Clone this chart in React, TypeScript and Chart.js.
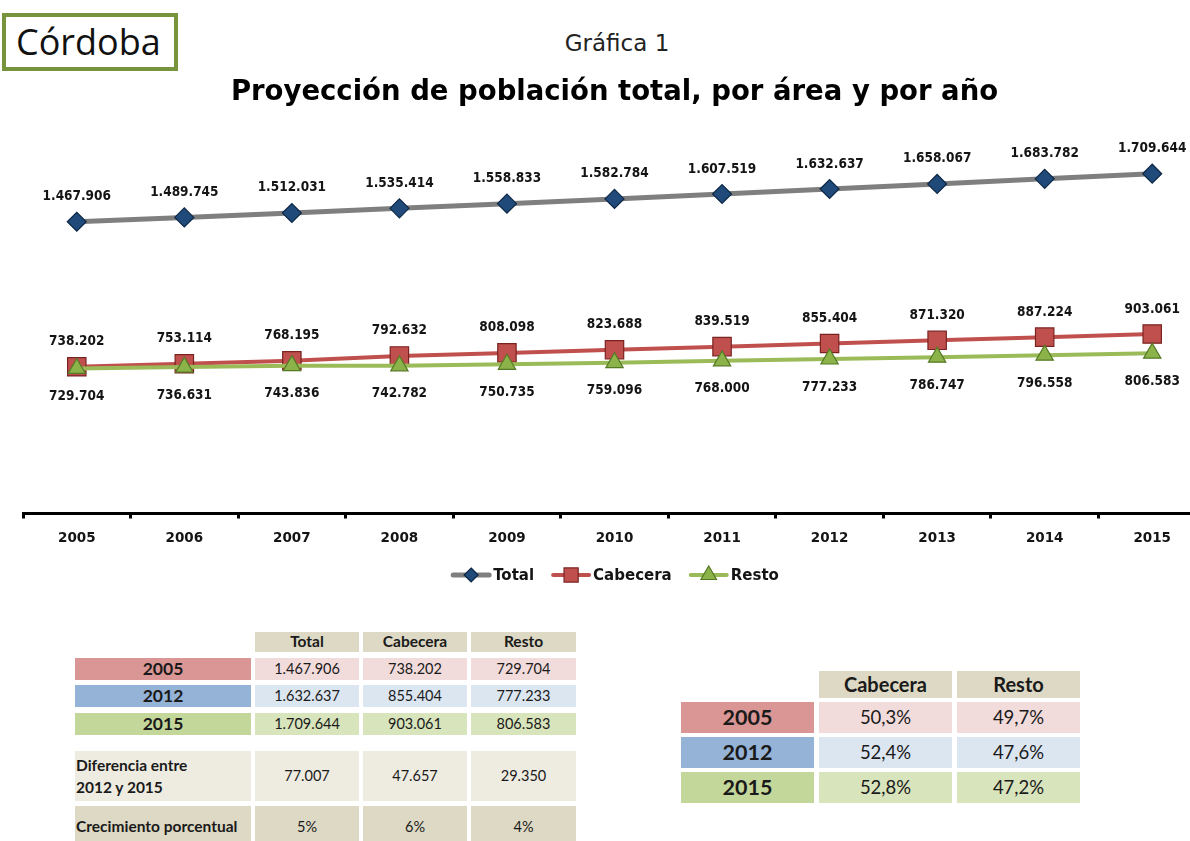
import React, { useEffect, useRef } from 'react';
import { Chart, registerables } from 'chart.js';

Chart.register(...registerables);

const years = ['2005', '2006', '2007', '2008', '2009', '2010', '2011', '2012', '2013', '2014', '2015'];
const total = [1467906, 1489745, 1512031, 1535414, 1558833, 1582784, 1607519, 1632637, 1658067, 1683782, 1709644];
const cabecera = [738202, 753114, 768195, 792632, 808098, 823688, 839519, 855404, 871320, 887224, 903061];
const resto = [729704, 736631, 743836, 742782, 750735, 759096, 768000, 777233, 786747, 796558, 806583];

const seriesNames = ['Total', 'Cabecera', 'Resto'];

const tableYears = ['2005', '2012', '2015'];
const tableTotal = ['1.467.906', '1.632.637', '1.709.644'];
const tableCabecera = ['738.202', '855.404', '903.061'];
const tableResto = ['729.704', '777.233', '806.583'];
const diferencia = ['77.007', '47.657', '29.350'];
const crecimiento = ['5%', '6%', '4%'];
const shareCabecera = ['50,3%', '52,4%', '52,8%'];
const shareResto = ['49,7%', '47,6%', '47,2%'];

const fmt = (n: number) => String(n).replace(/\B(?=(\d{3})+(?!\d))/g, '.');

const LINE_COLORS = ['#7F7F7F', '#C0504D', '#9BBB59'];
const MARK_FILL = ['#1F4A7A', '#C0504D', '#8CB24A'];
const MARK_BORDER = ['#0E2846', '#7A2321', '#557A25'];

function drawMarker(ctx: CanvasRenderingContext2D, kind: number, x: number, y: number, r: number) {
  ctx.beginPath();
  if (kind === 0) {
    ctx.moveTo(x, y - r);
    ctx.lineTo(x + r, y);
    ctx.lineTo(x, y + r);
    ctx.lineTo(x - r, y);
  } else if (kind === 1) {
    const s = r * Math.SQRT1_2;
    ctx.rect(x - s, y - s, 2 * s, 2 * s);
  } else {
    ctx.moveTo(x, y - r);
    ctx.lineTo(x + r * 0.866, y + r * 0.5);
    ctx.lineTo(x - r * 0.866, y + r * 0.5);
  }
  ctx.closePath();
  ctx.fillStyle = MARK_FILL[kind];
  ctx.fill();
  ctx.lineWidth = 1.2;
  ctx.strokeStyle = MARK_BORDER[kind];
  ctx.stroke();
}

const LABEL_FONT = 'bold 13.5px "DejaVu Sans Condensed", "DejaVu Sans", sans-serif';

const pointLabelsPlugin = {
  id: 'pointLabels',
  afterDatasetsDraw(chart: any, _args: any, opts: any) {
    const ctx = chart.ctx as CanvasRenderingContext2D;
    ctx.save();
    ctx.font = LABEL_FONT;
    ctx.fillStyle = '#141414';
    ctx.textAlign = 'center';
    ctx.textBaseline = 'middle';
    chart.data.datasets.forEach((ds: any, i: number) => {
      const meta = chart.getDatasetMeta(i);
      const off = opts.offsets[i];
      meta.data.forEach((el: any, j: number) => {
        ctx.fillText(fmt(ds.data[j]), el.x, el.y + off);
      });
    });
    ctx.restore();
  },
};

const customLegendPlugin = {
  id: 'customLegend',
  afterDraw(chart: any, _args: any, opts: any) {
    const ctx = chart.ctx as CanvasRenderingContext2D;
    ctx.save();
    ctx.font = 'bold 15px "DejaVu Sans", sans-serif';
    const sample = 40;
    const gap = 2;
    const spacing = 17;
    const items = chart.data.datasets.map((ds: any) => ({ label: ds.label, w: sample + gap + ctx.measureText(ds.label).width }));
    const totalW = items.reduce((a: number, b: any) => a + b.w, 0) + spacing * (items.length - 1);
    let x = opts.centerX - totalW / 2;
    const y = opts.y;
    items.forEach((it: any, i: number) => {
      ctx.strokeStyle = LINE_COLORS[i];
      ctx.lineWidth = i === 0 ? 5 : 4;
      ctx.lineCap = 'round';
      ctx.beginPath();
      ctx.moveTo(x + 2, y);
      ctx.lineTo(x + sample - 2, y);
      ctx.stroke();
      drawMarker(ctx, i, x + sample / 2, y, i === 0 ? 7 : i === 1 ? 10 : 9);
      ctx.fillStyle = '#141414';
      ctx.textAlign = 'left';
      ctx.textBaseline = 'middle';
      ctx.fillText(it.label, x + sample + gap, y + 1);
      x += it.w + spacing;
    });
    ctx.restore();
  },
};

function LineChart() {
  const ref = useRef<HTMLCanvasElement | null>(null);
  useEffect(() => {
    if (!ref.current) return;
    const chart = new Chart(ref.current, {
      type: 'line',
      data: {
        labels: years,
        datasets: [
          {
            label: seriesNames[0],
            data: total,
            borderColor: LINE_COLORS[0],
            borderWidth: 5,
            pointStyle: 'rectRot',
            pointRadius: 9.5,
            pointBackgroundColor: MARK_FILL[0],
            pointBorderColor: MARK_BORDER[0],
            pointBorderWidth: 1.2,
            tension: 0,
            order: 2,
          },
          {
            label: seriesNames[1],
            data: cabecera,
            borderColor: LINE_COLORS[1],
            borderWidth: 4,
            pointStyle: 'rect',
            pointRadius: 13,
            pointBackgroundColor: MARK_FILL[1],
            pointBorderColor: MARK_BORDER[1],
            pointBorderWidth: 1.2,
            tension: 0,
            order: 1,
          },
          {
            label: seriesNames[2],
            data: resto,
            borderColor: LINE_COLORS[2],
            borderWidth: 4,
            pointStyle: 'triangle',
            pointRadius: 10,
            pointBackgroundColor: MARK_FILL[2],
            pointBorderColor: MARK_BORDER[2],
            pointBorderWidth: 1.2,
            tension: 0,
            order: 0,
          },
        ],
      },
      options: {
        animation: false,
        responsive: false,
        devicePixelRatio: 1,
        layout: { padding: { left: 23, right: 28, top: 0, bottom: 46.5 } },
        scales: {
          x: {
            offset: true,
            afterFit: (scale: any) => {
              scale.height = 40;
            },
            grid: {
              display: true,
              offset: true,
              drawOnChartArea: false,
              drawTicks: true,
              tickLength: 5,
              tickWidth: 3,
              tickColor: '#000',
              color: '#000',
            },
            border: { display: true, color: '#000', width: 3 },
            ticks: {
              color: '#141414',
              padding: 12,
              font: { family: '"DejaVu Sans"', size: 13.5, weight: 'bold' },
            },
          },
          y: {
            display: false,
            min: 0,
            max: 2000000,
          },
        },
        plugins: {
          legend: { display: false },
          tooltip: { enabled: false },
          title: {
            display: true,
            text: 'Proyección de población total, por área y por año',
            color: '#000',
            font: { family: '"DejaVu Sans"', size: 27.5, weight: 'bold' },
            padding: { top: 6, bottom: 7 },
          },
          pointLabels: { offsets: [-25, -25, 28] },
          customLegend: { centerX: 615, y: 505 },
        } as any,
      },
      plugins: [pointLabelsPlugin, customLegendPlugin],
    });
    return () => chart.destroy();
  }, []);
  return <canvas ref={ref} width={1234} height={530} style={{ position: 'absolute', left: 0, top: 70, width: 1234, height: 530 }} />;
}

const FONT = 'Lato, "Open Sans", sans-serif';
const TXT = '#1a1a1a';

type CellProps = { x: number; y: number; w: number; h: number; bg: string; children?: React.ReactNode; size: number; bold?: boolean; align?: 'center' | 'left'; lh?: number };
function Cell({ x, y, w, h, bg, children, size, bold, align = 'center', lh = 1.25 }: CellProps) {
  return (
    <div
      style={{
        position: 'absolute',
        left: x,
        top: y,
        width: w,
        height: h,
        background: bg,
        display: 'flex',
        alignItems: 'center',
        justifyContent: align === 'center' ? 'center' : 'flex-start',
        textAlign: align,
        fontFamily: FONT,
        fontSize: size,
        fontWeight: bold ? 700 : 400,
        color: TXT,
        lineHeight: lh,
        boxSizing: 'border-box',
        paddingLeft: align === 'left' ? 1 : 0,
        whiteSpace: 'nowrap',
      }}
    >
      {children}
    </div>
  );
}

const HEAD = '#DDD9C4';
const LABEL_BG = ['#DA9694', '#95B3D7', '#C4D79B'];
const VALUE_BG = ['#F2DCDB', '#DCE6F1', '#D8E4BC'];

function LeftTable() {
  const cols = [
    { x: 75, w: 176 },
    { x: 255, w: 104 },
    { x: 363, w: 104 },
    { x: 471, w: 105 },
  ];
  const rowY = [658, 685, 713];
  const cells: React.ReactNode[] = [];
  seriesNames.forEach((n, i) => {
    cells.push(
      <Cell key={'h' + i} x={cols[i + 1].x} y={632} w={cols[i + 1].w} h={20} bg={HEAD} size={15.5} bold>
        {n}
      </Cell>
    );
  });
  tableYears.forEach((yr, r) => {
    cells.push(
      <Cell key={'y' + r} x={cols[0].x} y={rowY[r]} w={cols[0].w} h={22} bg={LABEL_BG[r]} size={17.5} bold>
        {yr}
      </Cell>
    );
    [tableTotal[r], tableCabecera[r], tableResto[r]].forEach((v, c) => {
      cells.push(
        <Cell key={'v' + r + c} x={cols[c + 1].x} y={rowY[r]} w={cols[c + 1].w} h={22} bg={VALUE_BG[r]} size={14.5}>
          {v}
        </Cell>
      );
    });
  });
  cells.push(
    <Cell key="dl" x={cols[0].x} y={751} w={cols[0].w} h={50} bg="#EEECE1" size={15.5} bold align="left" lh={1.45}>
      <span>
        Diferencia entre
        <br />
        2012 y 2015
      </span>
    </Cell>
  );
  diferencia.forEach((v, c) => {
    cells.push(
      <Cell key={'d' + c} x={cols[c + 1].x} y={751} w={cols[c + 1].w} h={50} bg="#EEECE1" size={14.5}>
        {v}
      </Cell>
    );
  });
  cells.push(
    <Cell key="cl" x={cols[0].x} y={806} w={cols[0].w} h={42} bg={HEAD} size={15.5} bold align="left">
      Crecimiento porcentual
    </Cell>
  );
  crecimiento.forEach((v, c) => {
    cells.push(
      <Cell key={'c' + c} x={cols[c + 1].x} y={806} w={cols[c + 1].w} h={42} bg={HEAD} size={14.5}>
        {v}
      </Cell>
    );
  });
  return <>{cells}</>;
}

function RightTable() {
  const cols = [
    { x: 681, w: 133 },
    { x: 819, w: 133 },
    { x: 957, w: 123 },
  ];
  const rowY = [702, 737, 772];
  const cells: React.ReactNode[] = [];
  [seriesNames[1], seriesNames[2]].forEach((n, i) => {
    cells.push(
      <Cell key={'h' + i} x={cols[i + 1].x} y={671} w={cols[i + 1].w} h={27} bg={HEAD} size={20} bold>
        {n}
      </Cell>
    );
  });
  tableYears.forEach((yr, r) => {
    cells.push(
      <Cell key={'y' + r} x={cols[0].x} y={rowY[r]} w={cols[0].w} h={31} bg={LABEL_BG[r]} size={21.5} bold>
        {yr}
      </Cell>
    );
    [shareCabecera[r], shareResto[r]].forEach((v, c) => {
      cells.push(
        <Cell key={'v' + r + c} x={cols[c + 1].x} y={rowY[r]} w={cols[c + 1].w} h={31} bg={VALUE_BG[r]} size={18.5}>
          {v}
        </Cell>
      );
    });
  });
  return <>{cells}</>;
}

export default function App() {
  return (
    <div style={{ position: 'absolute', left: 0, top: 0, width: 1190, height: 841, overflow: 'hidden', background: '#fff' }}>
      <div
        style={{
          position: 'absolute',
          left: 2,
          top: 13,
          width: 176,
          height: 58,
          border: '4px solid #77933C',
          boxSizing: 'border-box',
          fontFamily: '"Open Sans", sans-serif',
          fontSize: 36,
          color: '#111',
          display: 'flex',
          alignItems: 'center',
          paddingLeft: 10,
          lineHeight: 1,
        }}
      >
        Córdoba
      </div>
      <div
        style={{
          position: 'absolute',
          left: 0,
          top: 30,
          width: 1234,
          textAlign: 'center',
          fontFamily: '"DejaVu Sans", sans-serif',
          fontSize: 23,
          color: '#222',
          lineHeight: '26px',
        }}
      >
        Gráfica 1
      </div>
      <LineChart />
      <LeftTable />
      <RightTable />
    </div>
  );
}
